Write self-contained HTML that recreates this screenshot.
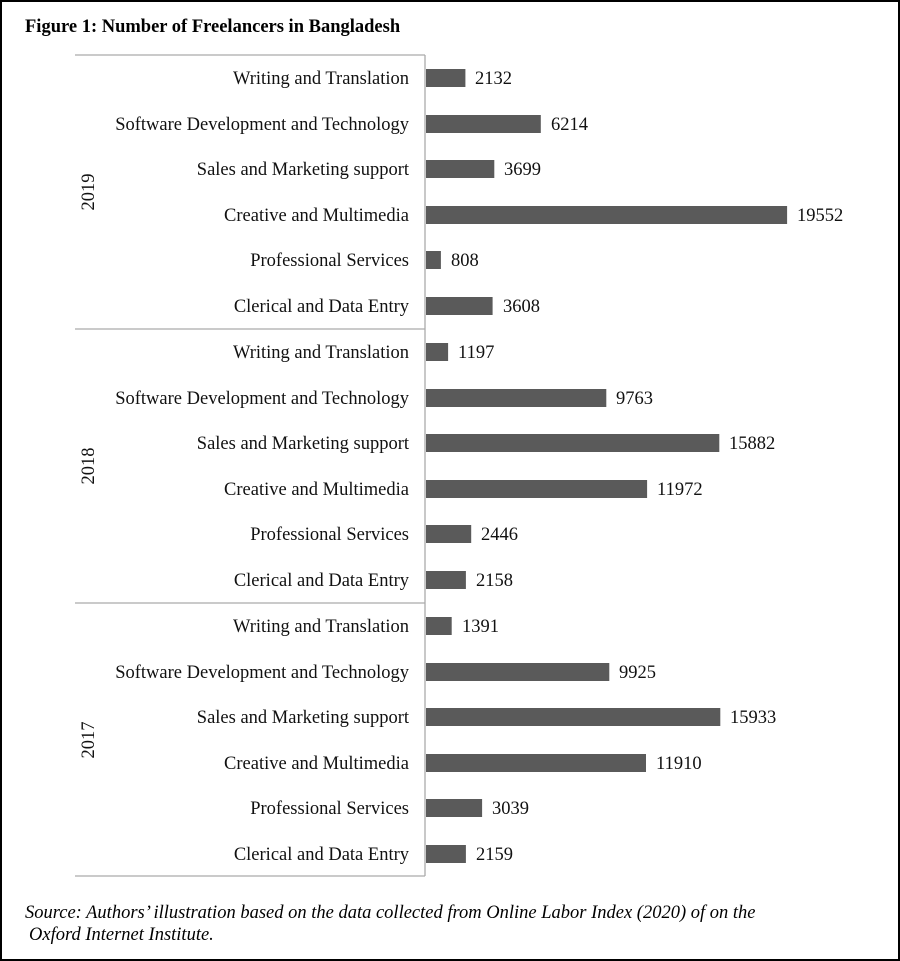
<!DOCTYPE html>
<html><head><meta charset="utf-8"><style>
html,body{margin:0;padding:0;background:#fff}
svg{display:block}
text{font-family:"Liberation Serif",serif}
</style></head><body>
<svg width="900" height="961" viewBox="0 0 900 961" xmlns="http://www.w3.org/2000/svg">
<rect x="1" y="1" width="898" height="959" fill="#fff" stroke="#000" stroke-width="2"/>
<text x="25" y="32" font-size="18.5" font-weight="bold">Figure 1: Number of Freelancers in Bangladesh</text>
<g stroke="#aaa" stroke-width="1.3">
<line x1="75" y1="55" x2="425" y2="55"/>
<line x1="75" y1="329" x2="425" y2="329"/>
<line x1="75" y1="603" x2="425" y2="603"/>
<line x1="75" y1="876" x2="425" y2="876"/>
<line x1="425" y1="55" x2="425" y2="876"/>
</g>
<g font-size="18.5" fill="#111">
<text transform="translate(94,192) rotate(-90)" text-anchor="middle">2019</text>
<text transform="translate(94,466) rotate(-90)" text-anchor="middle">2018</text>
<text transform="translate(94,740) rotate(-90)" text-anchor="middle">2017</text>
</g>
<g font-size="18.5" fill="#111" text-anchor="end">
<text x="409" y="84">Writing and Translation</text>
<text x="409" y="130">Software Development and Technology</text>
<text x="409" y="175">Sales and Marketing support</text>
<text x="409" y="221">Creative and Multimedia</text>
<text x="409" y="266">Professional Services</text>
<text x="409" y="312">Clerical and Data Entry</text>
<text x="409" y="358">Writing and Translation</text>
<text x="409" y="404">Software Development and Technology</text>
<text x="409" y="449">Sales and Marketing support</text>
<text x="409" y="495">Creative and Multimedia</text>
<text x="409" y="540">Professional Services</text>
<text x="409" y="586">Clerical and Data Entry</text>
<text x="409" y="632">Writing and Translation</text>
<text x="409" y="678">Software Development and Technology</text>
<text x="409" y="723">Sales and Marketing support</text>
<text x="409" y="769">Creative and Multimedia</text>
<text x="409" y="814">Professional Services</text>
<text x="409" y="860">Clerical and Data Entry</text>
</g>
<g fill="#5a5a5a">
<rect x="426" y="69" width="39.4" height="18"/>
<rect x="426" y="115" width="114.8" height="18"/>
<rect x="426" y="160" width="68.3" height="18"/>
<rect x="426" y="206" width="361.1" height="18"/>
<rect x="426" y="251" width="14.9" height="18"/>
<rect x="426" y="297" width="66.6" height="18"/>
<rect x="426" y="343" width="22.1" height="18"/>
<rect x="426" y="389" width="180.3" height="18"/>
<rect x="426" y="434" width="293.3" height="18"/>
<rect x="426" y="480" width="221.1" height="18"/>
<rect x="426" y="525" width="45.2" height="18"/>
<rect x="426" y="571" width="39.9" height="18"/>
<rect x="426" y="617" width="25.7" height="18"/>
<rect x="426" y="663" width="183.3" height="18"/>
<rect x="426" y="708" width="294.3" height="18"/>
<rect x="426" y="754" width="220.0" height="18"/>
<rect x="426" y="799" width="56.1" height="18"/>
<rect x="426" y="845" width="39.9" height="18"/>
</g>
<g font-size="18.5" fill="#111">
<text x="475" y="84">2132</text>
<text x="551" y="130">6214</text>
<text x="504" y="175">3699</text>
<text x="797" y="221">19552</text>
<text x="451" y="266">808</text>
<text x="503" y="312">3608</text>
<text x="458" y="358">1197</text>
<text x="616" y="404">9763</text>
<text x="729" y="449">15882</text>
<text x="657" y="495">11972</text>
<text x="481" y="540">2446</text>
<text x="476" y="586">2158</text>
<text x="462" y="632">1391</text>
<text x="619" y="678">9925</text>
<text x="730" y="723">15933</text>
<text x="656" y="769">11910</text>
<text x="492" y="814">3039</text>
<text x="476" y="860">2159</text>
</g>
<text x="25" y="918" font-size="18.5" font-style="italic">Source: Authors’ illustration based on the data collected from Online Labor Index (2020) of on the</text>
<text x="29" y="940" font-size="18.5" font-style="italic">Oxford Internet Institute.</text>
</svg>
</body></html>
